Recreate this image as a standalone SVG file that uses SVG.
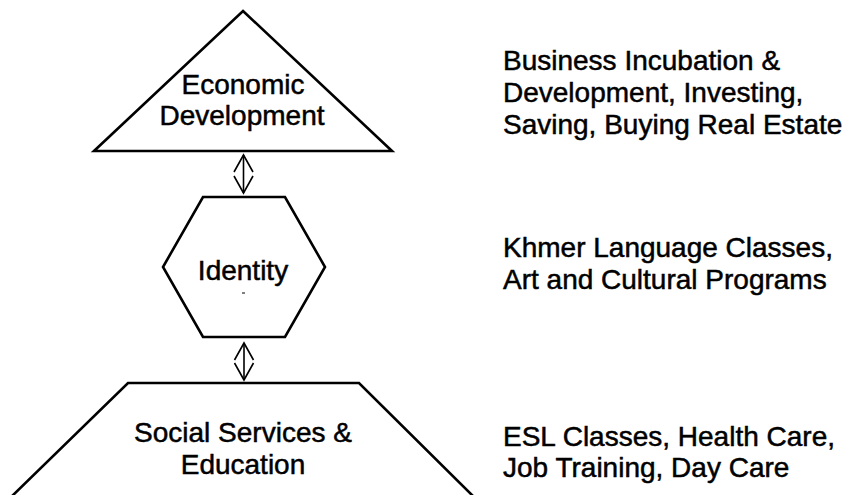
<svg xmlns="http://www.w3.org/2000/svg" width="850" height="495" viewBox="0 0 850 495">
  <style>
    .shape { fill: #ffffff; stroke: #000000; stroke-width: 2.6; stroke-linejoin: miter; }
    .label { font-family: "Liberation Sans", Arial, sans-serif; font-size: 28px; fill: #000000; stroke: #000000; stroke-width: 0.5; text-anchor: middle; }
    .note { font-family: "Liberation Sans", Arial, sans-serif; font-size: 28px; fill: #000000; stroke: #000000; stroke-width: 0.5; }
    .link { fill: none; stroke: #000000; stroke-width: 1.6; }
  </style>
  <rect width="850" height="495" fill="#ffffff"/>

  <!-- Top tier: economic development -->
  <g id="economic-development">
    <polygon class="shape" points="243,11 392,151 94,151"/>
    <text class="label" x="243" y="94">Economic</text>
    <text class="label" x="242" y="125">Development</text>
  </g>

  <!-- Middle tier: identity -->
  <g id="identity">
    <polygon class="shape" points="203,197 285,197 325,267 285,337 203,337 163,267"/>
    <text class="label" x="243" y="280">Identity</text>
    <line x1="242" y1="293" x2="245" y2="293" stroke="#000" stroke-width="1"/>
  </g>

  <!-- Bottom tier: social services and education -->
  <g id="social-services">
    <path class="shape" d="M 8,500 L 128,383 L 359,383 L 477,500"/>
    <text class="label" x="243" y="442">Social Services &amp;</text>
    <text class="label" x="243" y="474">Education</text>
  </g>

  <!-- Descriptions beside each tier -->
  <g id="economic-notes">
    <text class="note" x="503" y="70">Business Incubation &amp;</text>
    <text class="note" x="503" y="102">Development, Investing,</text>
    <text class="note" x="503" y="134">Saving, Buying Real Estate</text>
  </g>
  <g id="identity-notes">
    <text class="note" x="503" y="257">Khmer Language Classes,</text>
    <text class="note" x="503" y="289">Art and Cultural Programs</text>
  </g>
  <g id="social-notes">
    <text class="note" x="503" y="446">ESL Classes, Health Care,</text>
    <text class="note" x="503" y="477">Job Training, Day Care</text>
  </g>

  <!-- Two-way links between tiers -->
  <g id="connectors">
    <g id="link-econ-identity">
      <line class="link" x1="243.5" y1="155" x2="243.5" y2="193"/>
      <polyline class="link" points="234,172 243.5,155 253,172"/>
      <polyline class="link" points="234,176 243.5,193 253,176"/>
    </g>
    <g id="link-identity-social">
      <line class="link" x1="244" y1="343" x2="244" y2="380"/>
      <polyline class="link" points="234.5,360 244,343 253.5,360"/>
      <polyline class="link" points="234.5,363 244,380 253.5,363"/>
    </g>
  </g>
</svg>
